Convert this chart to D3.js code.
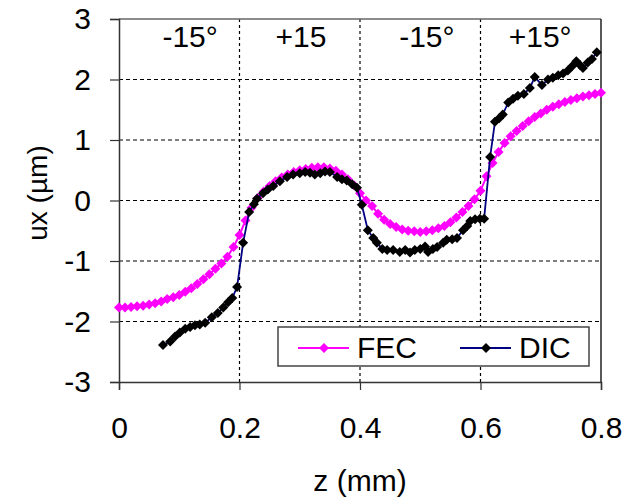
<!DOCTYPE html>
<html>
<head>
<meta charset="utf-8">
<script src="https://cdn.jsdelivr.net/npm/d3@7"></script>
<style>
  body { margin: 0; background: #fff; }
  text { font-family: "Liberation Sans", Arial, sans-serif; fill: #000; }
</style>
</head>
<body>
<div id="chart"></div>
<script>
// Data
const fecZ = [0.00,0.01,0.02,0.03,0.04,0.05,0.06,0.07,0.08,0.09,0.10,0.11,0.12,0.13,0.14,0.15,0.16,0.17,0.18,0.19,
  0.20,0.21,0.22,0.23,0.24,0.25,0.26,0.27,0.28,0.29,0.30,0.31,0.32,0.33,0.34,0.35,0.36,0.37,0.38,0.39,
  0.40,0.41,0.42,0.43,0.44,0.45,0.46,0.47,0.48,0.49,0.50,0.51,0.52,0.53,0.54,0.55,0.56,0.57,0.58,0.59,
  0.60,0.61,0.62,0.63,0.64,0.65,0.66,0.67,0.68,0.69,0.70,0.71,0.72,0.73,0.74,0.75,0.76,0.77,0.78,0.79,0.80];
const fecUx = [-1.77,-1.77,-1.76,-1.75,-1.74,-1.72,-1.70,-1.67,-1.63,-1.60,-1.56,-1.51,-1.45,-1.38,-1.30,-1.22,-1.13,-1.04,-0.93,-0.77,
  -0.57,-0.33,-0.12,0.04,0.15,0.24,0.32,0.38,0.43,0.47,0.50,0.52,0.54,0.55,0.55,0.53,0.49,0.43,0.35,0.25,
  0.12,0.00,-0.09,-0.22,-0.32,-0.39,-0.44,-0.48,-0.50,-0.51,-0.52,-0.51,-0.49,-0.46,-0.42,-0.36,-0.28,-0.19,-0.09,0.02,
  0.16,0.40,0.62,0.80,0.95,1.06,1.15,1.23,1.31,1.38,1.44,1.50,1.55,1.59,1.63,1.66,1.69,1.72,1.74,1.76,1.78];

const dicZ = [0.073,0.085,0.093,0.101,0.110,0.118,0.126,0.134,0.143,0.154,0.164,0.173,0.181,0.188,0.196,
  0.206,0.216,0.224,0.229,0.239,0.247,0.256,0.267,0.279,0.289,0.300,0.309,0.317,0.325,0.334,0.342,0.350,
  0.362,0.370,0.378,0.387,0.395,0.403,0.413,0.422,0.428,0.437,0.445,0.455,0.466,0.475,0.483,0.491,0.500,
  0.508,0.513,0.521,0.528,0.538,0.544,0.553,0.561,0.571,0.578,0.583,0.591,0.599,0.606,
  0.616,0.624,0.631,0.637,0.646,0.654,0.662,0.672,0.682,0.690,0.702,0.712,0.720,0.729,0.737,0.745,
  0.752,0.759,0.765,0.770,0.778,0.785,0.793];
const dicUx = [-2.39,-2.33,-2.25,-2.18,-2.12,-2.09,-2.06,-2.05,-2.02,-1.93,-1.86,-1.77,-1.68,-1.61,-1.43,
  -0.70,-0.19,-0.06,0.03,0.12,0.18,0.24,0.32,0.39,0.43,0.45,0.47,0.46,0.43,0.45,0.48,0.47,
  0.39,0.35,0.33,0.27,0.21,-0.07,-0.49,-0.62,-0.70,-0.80,-0.82,-0.82,-0.85,-0.82,-0.86,-0.82,-0.80,
  -0.76,-0.85,-0.80,-0.77,-0.70,-0.65,-0.64,-0.62,-0.49,-0.42,-0.34,-0.31,-0.30,-0.30,
  0.72,1.30,1.36,1.42,1.62,1.68,1.73,1.76,1.86,2.04,1.91,2.00,2.03,2.07,2.10,2.15,
  2.22,2.30,2.24,2.19,2.28,2.34,2.45];

const xTicks = [0, 0.2, 0.4, 0.6, 0.8];
const yTicks = [-3, -2, -1, 0, 1, 2, 3];
const regionLabels = ["-15°", "+15", "-15°", "+15°"];
const regionZ = [0.118, 0.302, 0.511, 0.699];
const seriesNames = ["FEC", "DIC"];

// Dimensions
const W = 636, H = 499;
const margin = { top: 19, right: 35, bottom: 117, left: 119 };
const width = W - margin.left - margin.right;
const height = H - margin.top - margin.bottom;
const fontSize = "30px";

const svg = d3.select("#chart").append("svg")
  .attr("width", W)
  .attr("height", H);

const g = svg.append("g")
  .attr("transform", `translate(${margin.left},${margin.top})`);

// Scales
const x = d3.scaleLinear().domain([0, 0.8]).range([0, width]);
const y = d3.scaleLinear().domain([-3, 3]).range([height, 0]);

// Grid
g.selectAll(".hgrid")
  .data(yTicks.filter(d => d > -3 && d < 3))
  .enter().append("line")
  .attr("x1", 0).attr("x2", width)
  .attr("y1", d => y(d)).attr("y2", d => y(d))
  .attr("stroke", "#000").attr("stroke-width", 1.2)
  .attr("stroke-dasharray", "4,3");

g.selectAll(".vgrid")
  .data(xTicks.filter(d => d > 0 && d < 0.8))
  .enter().append("line")
  .attr("x1", d => x(d)).attr("x2", d => x(d))
  .attr("y1", 0).attr("y2", height)
  .attr("stroke", "#000").attr("stroke-width", 1.2)
  .attr("stroke-dasharray", "3,3");

// Plot border (top and right)
g.append("line").attr("x1", 0).attr("x2", width).attr("y1", 0).attr("y2", 0)
  .attr("stroke", "#666").attr("stroke-width", 1.5);
g.append("line").attr("x1", width).attr("x2", width).attr("y1", 0).attr("y2", height)
  .attr("stroke", "#222").attr("stroke-width", 1.5);

// Axes
const xAxis = g.append("g")
  .attr("transform", `translate(0,${height})`)
  .call(d3.axisBottom(x).tickValues(xTicks).tickSize(8).tickPadding(27)
    .tickFormat(d => String(d)));
const yAxis = g.append("g")
  .call(d3.axisLeft(y).tickValues(yTicks).tickSize(9).tickPadding(19)
    .tickFormat(d => String(d)));

[xAxis, yAxis].forEach(a => {
  a.select(".domain").attr("stroke", "#333").attr("stroke-width", 1.5);
  a.selectAll(".tick line").attr("stroke", "#333").attr("stroke-width", 1.2);
  a.selectAll("text").style("font-size", fontSize).attr("fill", "#000")
    .style("font-family", "'Liberation Sans', Arial, sans-serif");
});

// Axis titles
svg.append("text")
  .attr("x", margin.left + width / 2).attr("y", 491)
  .attr("text-anchor", "middle").style("font-size", fontSize)
  .text("z (mm)");
svg.append("text")
  .attr("transform", "translate(47,193) rotate(-90)")
  .attr("text-anchor", "middle").style("font-size", "28px")
  .text("ux (µm)");

// Region labels
g.selectAll(".region")
  .data(regionLabels)
  .enter().append("text")
  .attr("x", (d, i) => x(regionZ[i]))
  .attr("y", 28)
  .attr("text-anchor", "middle").style("font-size", fontSize)
  .text(d => d);

// Series
const fec = fecZ.map((z, i) => ({ z: z, v: fecUx[i] }));
const dic = dicZ.map((z, i) => ({ z: z, v: dicUx[i] }));
const line = d3.line().x(d => x(d.z)).y(d => y(d.v));
const diamond = d3.symbol().type(d3.symbolSquare).size(50);

g.append("path").datum(fec).attr("d", line)
  .attr("fill", "none").attr("stroke", "#ff00ff").attr("stroke-width", 2);
g.selectAll(".fec")
  .data(fec)
  .enter().append("path")
  .attr("d", diamond)
  .attr("transform", d => `translate(${x(d.z)},${y(d.v)}) rotate(45)`)
  .attr("fill", "#ff00ff");

g.append("path").datum(dic).attr("d", line)
  .attr("fill", "none").attr("stroke", "#000080").attr("stroke-width", 1.8);
g.selectAll(".dic")
  .data(dic)
  .enter().append("path")
  .attr("d", diamond)
  .attr("transform", d => `translate(${x(d.z)},${y(d.v)}) rotate(45)`)
  .attr("fill", "#000");

// Legend
const legend = svg.append("g").attr("transform", "translate(278,327)");
legend.append("rect")
  .attr("width", 311).attr("height", 39)
  .attr("fill", "#fff").attr("stroke", "#444").attr("stroke-width", 1.5);
const legColors = [["#ff00ff", "#ff00ff"], ["#000080", "#000"]];
const legX = [20, 182];
seriesNames.forEach((name, i) => {
  const lg = legend.append("g").attr("transform", `translate(${legX[i]},21)`);
  lg.append("line").attr("x1", 0).attr("x2", 51).attr("y1", 0).attr("y2", 0)
    .attr("stroke", legColors[i][0]).attr("stroke-width", 2);
  lg.append("path").attr("d", diamond)
    .attr("transform", "translate(26,0) rotate(45)")
    .attr("fill", legColors[i][1]);
  lg.append("text").attr("x", 59).attr("y", 10)
    .style("font-size", fontSize).text(name);
});
</script>
</body>
</html>
